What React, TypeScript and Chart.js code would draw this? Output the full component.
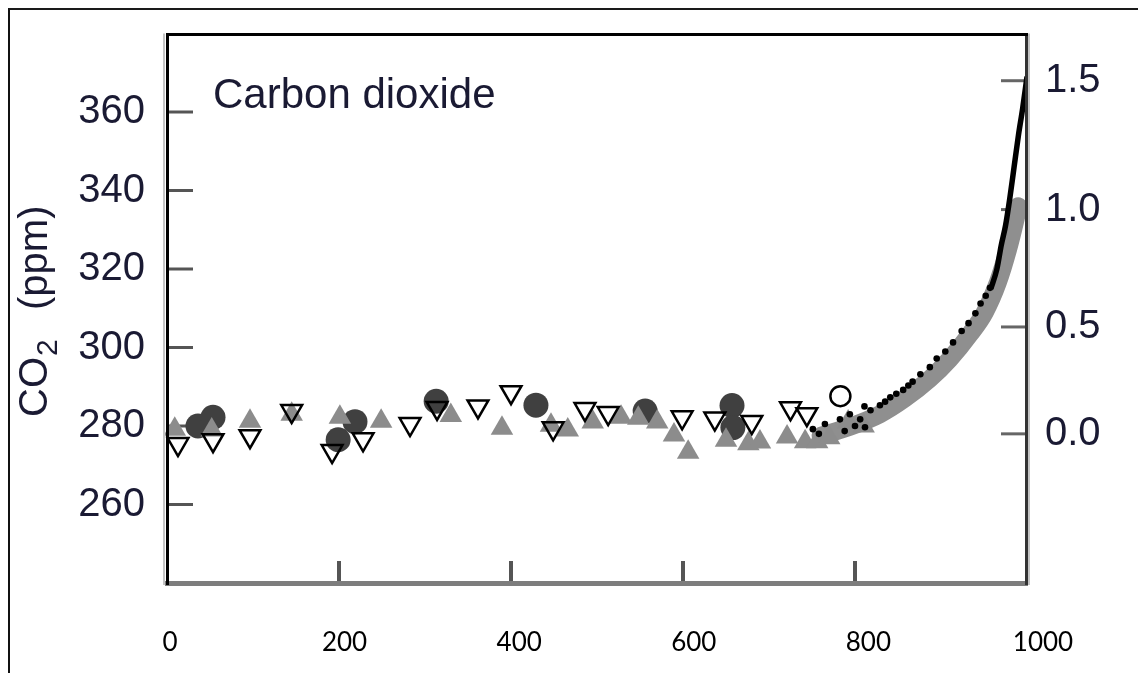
import React, { useEffect, useRef } from "react";
import { Chart, registerables } from "chart.js";

Chart.register(...registerables);

// ---------- axes / labels ----------
const X_TICKS = [0, 200, 400, 600, 800, 1000];
const X_MIN = 0;
const X_MAX = 1000;
// the printed year labels sit on their own, slightly wider scale
const X_LABEL_MIN = -3.4;
const X_LABEL_MAX = 981.7;
const Y_TICKS = [260, 280, 300, 320, 340, 360];
const Y_MIN = 240;
const Y_MAX = 380;
const FORCING_TICKS = [0.0, 0.5, 1.0, 1.5];
const FORCING_LABELS = ["0.0", "0.5", "1.0", "1.5"];
const FORCING_REF_PPM = 278;
const FORCING_COEF = 5.35;
const PANEL_TITLE = "Carbon dioxide";

// ---------- series ----------
// gray filled upward triangles
const grayTriX = [9, 52, 96.5, 145, 201, 249, 330, 389.5, 446.5, 466, 495, 528, 548, 570, 589.5, 606, 650, 676, 689.5, 721, 742, 756, 770, 792, 810];
const grayTriY = [279.2, 279, 281.2, 283, 282.2, 281.2, 282.7, 279.4, 280.2, 279, 281, 282.2, 282, 281, 277.7, 273.3, 276.4, 275.5, 275.9, 277.2, 276, 276, 277, 281, 280];

// dark filled circles
const darkCircX = [36, 53.5, 199, 218.6, 313, 429, 556, 657, 658];
const darkCircY = [280, 282.2, 276.5, 281.1, 286.3, 285.3, 283.8, 285.2, 279.6];

// open downward triangles
const openDownX = [12.8, 53.5, 96.5, 145, 192, 228, 282.6, 314, 361.6, 400, 449, 486, 513, 599, 637, 680, 725, 744];
const openDownY = [275.4, 276.4, 277.4, 283.8, 273.6, 276.6, 280.5, 284.6, 285, 288.6, 279.4, 284.3, 283.3, 282.2, 281.9, 281, 284.5, 283];

// open circle
const openCircX = [783];
const openCircY = [287.6];

// small black dots (dense record)
const blackDotX = [751, 758, 765, 782.5, 788, 794, 800, 806, 811, 811.6, 818, 829, 835, 841, 848, 856, 862, 867, 876, 887, 895, 905, 914, 924, 932, 940, 946, 952, 957];
const blackDotY = [279.2, 278, 280.5, 281.7, 278.7, 283, 280, 281.7, 285, 279.7, 284, 285.3, 286.2, 287.3, 288.2, 289.2, 290.3, 291.3, 293.2, 295, 297.2, 299, 301.3, 304.2, 306.2, 308.7, 311.2, 313.2, 315.2];

// thick gray band (dense gray record)
const bandX = [760, 794, 829, 858, 887, 910, 934, 951, 966, 978, 986, 990];
const bandY = [277.5, 279.8, 283, 287, 292, 297, 303.5, 309, 316.5, 325, 332, 336];

// black line (direct atmospheric record)
const lineX = [958, 965, 970, 975, 980, 985, 990, 995, 1000];
const lineY = [315, 320, 326, 331, 338, 346, 354, 361, 369];

const TEXT_COLOR = "#1a1a33";
const ARIAL = '"Liberation Sans", Arial, sans-serif';

const pts = (xs: number[], ys: number[]) => xs.map((x, i) => ({ x, y: ys[i] }));

const line = (ctx: CanvasRenderingContext2D, x1: number, y1: number, x2: number, y2: number) => {
  ctx.beginPath();
  ctx.moveTo(x1, y1);
  ctx.lineTo(x2, y2);
  ctx.stroke();
};

const decorPlugin = {
  id: "decor",
  beforeDatasetsDraw(chart: any) {
    const { ctx, chartArea: a, scales } = chart;
    ctx.save();
    ctx.strokeStyle = "#555";
    ctx.lineWidth = 3;
    Y_TICKS.forEach((v) => {
      const y = scales.y.getPixelForValue(v);
      line(ctx, a.left, y, a.left + 26, y);
    });
    ctx.strokeStyle = "#666";
    scales.y2.ticks.forEach((t: any) => {
      const y = scales.y2.getPixelForValue(t.value);
      line(ctx, a.right - 26, y, a.right, y);
    });
    ctx.strokeStyle = "#555";
    ctx.lineWidth = 4;
    X_TICKS.filter((v) => v > X_MIN && v < X_MAX).forEach((v) => {
      const x = scales.x.getPixelForValue(v);
      line(ctx, x, a.bottom - 22, x, a.bottom);
    });
    // panel title
    ctx.fillStyle = TEXT_COLOR;
    ctx.font = `42px ${ARIAL}`;
    ctx.textAlign = "left";
    ctx.textBaseline = "alphabetic";
    ctx.fillText(PANEL_TITLE, a.left + 46, a.top + 74.5);
    ctx.restore();
  },
  afterDatasetsDraw(chart: any) {
    const { ctx, chartArea: a } = chart;
    ctx.save();
    ctx.strokeStyle = "#c4c4c4";
    ctx.lineWidth = 2;
    line(ctx, a.left - 3, a.top, a.left - 3, a.bottom + 2);
    line(ctx, a.right + 2, a.top, a.right + 2, a.bottom + 2);
    ctx.strokeStyle = "#7d7d7d";
    ctx.lineWidth = 5;
    line(ctx, a.left - 2, a.bottom + 0.5, a.right + 1, a.bottom + 0.5);
    ctx.strokeStyle = "#000";
    ctx.lineWidth = 3;
    line(ctx, a.left + 0.5, a.top, a.left + 0.5, a.bottom + 2);
    ctx.strokeStyle = "#333";
    line(ctx, a.right - 0.5, a.top, a.right - 0.5, a.bottom + 2);
    ctx.strokeStyle = "#000";
    line(ctx, a.left - 1, a.top + 1, a.right + 1, a.top + 1);
    ctx.restore();
  },
  afterDraw(chart: any) {
    const { ctx } = chart;
    ctx.save();
    ctx.fillStyle = TEXT_COLOR;
    ctx.translate(37, 407);
    ctx.rotate(-Math.PI / 2);
    ctx.textAlign = "left";
    ctx.textBaseline = "alphabetic";
    ctx.font = `40px ${ARIAL}`;
    ctx.fillText("CO", 0, 0);
    const w = ctx.measureText("CO").width;
    ctx.font = `30px ${ARIAL}`;
    ctx.fillText("2", w + 1, 10);
    ctx.font = `40px ${ARIAL}`;
    ctx.fillText("(ppm)", 107, 0);
    ctx.restore();
  },
};

export default function App() {
  const ref = useRef<HTMLCanvasElement>(null);

  useEffect(() => {
    document.documentElement.style.overflow = "hidden";
    let chart: Chart | null = null;
    let cancelled = false;

    const make = () => {
      if (cancelled || !ref.current) return;
      const tickFont = { family: ARIAL, size: 40 };
      chart = new Chart(ref.current, {
        type: "scatter",
        data: {
          datasets: [
            {
              label: "band",
              type: "line",
              data: pts(bandX, bandY),
              showLine: true,
              borderColor: "#8f8f8f",
              borderWidth: 18,
              borderCapStyle: "round",
              borderJoinStyle: "round",
              cubicInterpolationMode: "monotone",
              pointRadius: 0,
              order: 6,
              clip: false,
            } as any,
            {
              label: "dark circles",
              data: pts(darkCircX, darkCircY),
              pointStyle: "circle",
              pointRadius: 12.5,
              pointBackgroundColor: "#404040",
              pointBorderColor: "#404040",
              pointBorderWidth: 0,
              order: 7,
              clip: false,
            } as any,
            {
              label: "gray triangles",
              data: pts(grayTriX, grayTriY),
              pointStyle: "triangle",
              pointRadius: 13,
              pointBackgroundColor: "#8c8c8c",
              pointBorderColor: "#8c8c8c",
              pointBorderWidth: 0,
              order: 5,
              clip: false,
            } as any,
            {
              label: "black dots",
              data: pts(blackDotX, blackDotY),
              pointStyle: "circle",
              pointRadius: 3.3,
              pointBackgroundColor: "#000",
              pointBorderColor: "#000",
              pointBorderWidth: 0,
              order: 4,
              clip: false,
            } as any,
            {
              label: "open down triangles",
              data: pts(openDownX, openDownY),
              pointStyle: "triangle",
              pointRotation: 180,
              pointRadius: 12,
              pointBackgroundColor: "rgba(255,255,255,0)",
              pointBorderColor: "#000",
              pointBorderWidth: 2.5,
              order: 3,
              clip: false,
            } as any,
            {
              label: "open circle",
              data: pts(openCircX, openCircY),
              pointStyle: "circle",
              pointRadius: 10,
              pointBackgroundColor: "rgba(255,255,255,0)",
              pointBorderColor: "#000",
              pointBorderWidth: 2.5,
              order: 2,
              clip: false,
            } as any,
            {
              label: "line",
              type: "line",
              data: pts(lineX, lineY),
              showLine: true,
              borderColor: "#000",
              borderWidth: 5.5,
              cubicInterpolationMode: "monotone",
              pointRadius: 0,
              order: 1,
              clip: false,
            } as any,
          ],
        },
        options: {
          responsive: false,
          animation: false,
          events: [],
          layout: { padding: { top: 23.5, left: 0, right: 0, bottom: 0 } },
          plugins: {
            legend: { display: false },
            tooltip: { enabled: false },
            title: { display: false },
          },
          scales: {
            x: {
              type: "linear",
              position: "bottom",
              display: false,
              min: X_MIN,
              max: X_MAX,
              grid: { display: false, drawTicks: false },
              border: { display: false },
              ticks: { display: false },
              afterFit: (s: any) => {
                s.height = 0;
                s.paddingLeft = 0;
                s.paddingRight = 0;
              },
            },
            x2: {
              type: "linear",
              position: "bottom",
              min: X_LABEL_MIN,
              max: X_LABEL_MAX,
              grid: { display: false, drawTicks: false },
              border: { display: false },
              afterBuildTicks: (s: any) => {
                s.ticks = X_TICKS.map((v) => ({ value: v }));
              },
              afterFit: (s: any) => {
                s.height = 90;
                s.paddingLeft = 0;
                s.paddingRight = 0;
              },
              ticks: {
                font: { family: "Lato, 'Open Sans', sans-serif", size: 26 },
                color: "#000",
                padding: 44.5,
                maxRotation: 0,
                autoSkip: false,
                callback: (v: any) => String(v),
              },
            },
            y: {
              type: "linear",
              position: "left",
              min: Y_MIN,
              max: Y_MAX,
              grid: { display: false, drawTicks: false },
              border: { display: false },
              afterBuildTicks: (s: any) => {
                s.ticks = Y_TICKS.map((v) => ({ value: v }));
              },
              afterFit: (s: any) => {
                s.width = 157;
                s.paddingTop = 0;
                s.paddingBottom = 0;
              },
              ticks: {
                font: tickFont,
                color: TEXT_COLOR,
                padding: 22,
                autoSkip: false,
                callback: (v: any) => String(v),
              },
            },
            y2: {
              type: "linear",
              position: "right",
              min: Y_MIN,
              max: Y_MAX,
              grid: { display: false, drawTicks: false },
              border: { display: false },
              afterBuildTicks: (s: any) => {
                s.ticks = FORCING_TICKS.map((f) => ({
                  value: FORCING_REF_PPM * Math.exp(f / FORCING_COEF),
                }));
              },
              afterFit: (s: any) => {
                s.width = 119;
                s.paddingTop = 0;
                s.paddingBottom = 0;
              },
              ticks: {
                font: tickFont,
                color: TEXT_COLOR,
                padding: 18,
                autoSkip: false,
                callback: (_v: any, i: number) => FORCING_LABELS[i],
              },
            },
          },
        } as any,
        plugins: [decorPlugin],
      });
    };

    const fonts = (document as any).fonts;
    if (fonts && fonts.load) {
      Promise.all([fonts.load(`40px "Liberation Sans"`), fonts.load("26px Lato")]).then(make, make);
    } else {
      make();
    }

    return () => {
      cancelled = true;
      if (chart) chart.destroy();
    };
  }, []);

  return (
    <div
      style={{
        width: 1136,
        height: 663,
        borderTop: "2px solid #1a1a1a",
        borderLeft: "2px solid #111",
        background: "#fff",
      }}
    >
      <canvas ref={ref} width={1136} height={663} style={{ display: "block" }} />
    </div>
  );
}
